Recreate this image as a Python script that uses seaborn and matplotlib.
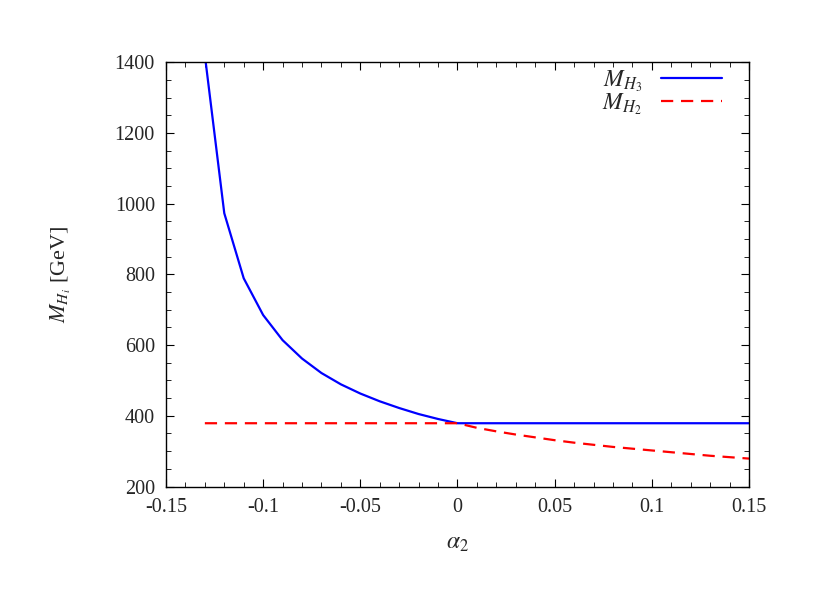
import numpy as np
import pandas as pd
import seaborn as sns
import matplotlib.pyplot as plt
from matplotlib.ticker import MultipleLocator

# values
alpha_h3 = [-0.13, -0.12, -0.11, -0.10, -0.09, -0.08, -0.07, -0.06, -0.05,
            -0.04, -0.03, -0.02, -0.01, 0.0, 0.15]
mass_h3 = [1420, 973, 789, 685, 614, 562, 521, 489, 463,
           441, 422, 405, 391, 379, 379]

alpha_h2 = [-0.13, 0.0, 0.01, 0.02, 0.03, 0.04, 0.05, 0.06, 0.07, 0.08,
            0.09, 0.10, 0.11, 0.12, 0.13, 0.14, 0.15]
mass_h2 = [379, 379, 366, 356, 347, 339, 331, 324, 318, 312,
           307, 302, 297, 292, 287, 283, 279]

sns.set_theme(style="ticks")
plt.rcParams['font.family'] = ['Liberation Serif', 'DejaVu Serif']
plt.rcParams['mathtext.fontset'] = 'stix'
plt.rcParams['xtick.direction'] = 'in'
plt.rcParams['ytick.direction'] = 'in'

df3 = pd.DataFrame({"alpha": alpha_h3, "mass": mass_h3})
df2 = pd.DataFrame({"alpha": alpha_h2, "mass": mass_h2})

fig = plt.figure(figsize=(8.27, 5.91), dpi=100)
ax = fig.add_axes([0.2007, 0.1768, 0.7050, 0.7178])

sns.lineplot(data=df3, x="alpha", y="mass", ax=ax, color="#0000ff",
             linewidth=1.6, label=r"$M_{H_3}$", sort=False)
sns.lineplot(data=df2, x="alpha", y="mass", ax=ax, color="#ff0000",
             linewidth=1.6, label=r"$M_{H_2}$", sort=False)
ax.lines[1].set_dashes([5.5, 3.5])

ax.set_xlim(-0.15, 0.15)
ax.set_ylim(200, 1400)
ax.xaxis.set_major_locator(MultipleLocator(0.05))
ax.xaxis.set_minor_locator(MultipleLocator(0.01))
ax.yaxis.set_major_locator(MultipleLocator(200))
ax.yaxis.set_minor_locator(MultipleLocator(50))
ax.set_xticks(np.arange(-0.15, 0.151, 0.05))
ax.set_xticklabels(["-0.15", "-0.1", "-0.05", "0", "0.05", "0.1", "0.15"])
ax.tick_params(which="both", top=True, right=True, labelsize=14.5, color="black")
ax.tick_params(which="major", length=6, width=0.8, pad=8)
ax.tick_params(which="minor", length=3.5, width=0.6)
for s in ax.spines.values():
    s.set_linewidth(1.0)
    s.set_color("black")

ax.set_xlabel(r"$\alpha_2$", fontsize=17, labelpad=12)
ax.set_ylabel(r"$M_{H_i}$ [GeV]", fontsize=16, labelpad=30)

leg = ax.legend(loc="upper right", bbox_to_anchor=(1 - 27 / 583, 1 - 6 / 425),
                frameon=False, markerfirst=False, fontsize=17,
                handlelength=2.6, borderaxespad=0, borderpad=0,
                labelspacing=-0.1, handletextpad=0.8)

fig.savefig("out.png", dpi=100)
